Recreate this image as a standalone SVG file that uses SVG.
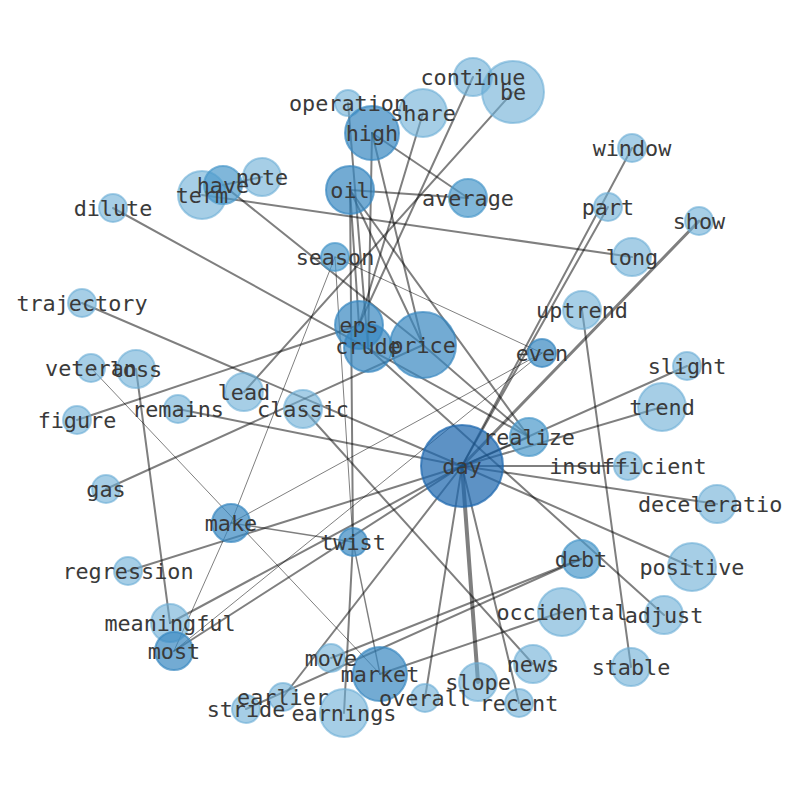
<svg xmlns="http://www.w3.org/2000/svg" width="794" height="790" viewBox="0 0 794 790">
<style>
.e line{stroke:#000;stroke-opacity:.5;stroke-width:2;stroke-linecap:round}
.e line.t{stroke-width:1}
.e line.m{stroke-width:1.4}
.e line.w{stroke-width:3}
.e line.ww{stroke-width:4}
circle{stroke-width:2}
.c1 circle{fill:#6baed6;stroke:#6baed6;fill-opacity:.6;stroke-opacity:.6}
.c2 circle{fill:#4a98cb;stroke:#4a98cb;fill-opacity:.7;stroke-opacity:.7}
.c3 circle{fill:#3787c0;stroke:#3787c0;fill-opacity:.7;stroke-opacity:.7}
.c4 circle{fill:#1f68ae;stroke:#1f68ae;fill-opacity:.72;stroke-opacity:.72}
text{font-family:"DejaVu Sans Mono","Liberation Mono",monospace;font-size:21.8px;fill:#3a3a3a;text-anchor:middle}
</style>
<rect width="794" height="790" fill="#fff"/>
<g id="edges" class="e">
<line x1="462" y1="466" x2="529" y2="437"/>
<line x1="462" y1="466" x2="628" y2="466"/>
<line x1="462" y1="466" x2="717" y2="504"/>
<line x1="462" y1="466" x2="692" y2="567"/>
<line class="ww" x1="462" y1="466" x2="478" y2="682"/>
<line x1="462" y1="466" x2="425" y2="698"/>
<line x1="462" y1="466" x2="519" y2="703"/>
<line class="w" x1="462" y1="466" x2="699" y2="221"/>
<line x1="462" y1="466" x2="608" y2="207"/>
<line x1="462" y1="466" x2="632" y2="148"/>
<line x1="462" y1="466" x2="687" y2="366"/>
<line x1="462" y1="466" x2="662" y2="407"/>
<line x1="462" y1="466" x2="178" y2="409"/>
<line x1="462" y1="466" x2="82" y2="303"/>
<line x1="462" y1="466" x2="128" y2="571"/>
<line x1="462" y1="466" x2="283" y2="697"/>
<line x1="462" y1="466" x2="174" y2="651"/>
<line x1="462" y1="466" x2="170" y2="623"/>
<line x1="582" y1="310" x2="631" y2="667"/>
<line x1="202" y1="195" x2="632" y2="257"/>
<line x1="223" y1="185" x2="262" y2="177"/>
<line x1="223" y1="185" x2="423" y2="345"/>
<line x1="113" y1="208" x2="529" y2="437"/>
<line x1="77" y1="420" x2="359" y2="325"/>
<line x1="473" y1="77" x2="359" y2="325"/>
<line x1="423" y1="113" x2="359" y2="325"/>
<line x1="244" y1="392" x2="513" y2="92"/>
<line x1="106" y1="489" x2="423" y2="345"/>
<line x1="136" y1="369" x2="170" y2="623"/>
<line class="t" x1="91" y1="368" x2="380" y2="674"/>
<line x1="303" y1="409" x2="533" y2="664"/>
<line x1="372" y1="133" x2="468" y2="198"/>
<line x1="350" y1="190" x2="468" y2="198"/>
<line x1="372" y1="133" x2="368" y2="348"/>
<line x1="372" y1="133" x2="423" y2="345"/>
<line x1="350" y1="190" x2="359" y2="325"/>
<line x1="350" y1="190" x2="423" y2="345"/>
<line x1="350" y1="190" x2="529" y2="437"/>
<line x1="350" y1="190" x2="353" y2="542"/>
<line x1="348" y1="103" x2="368" y2="348"/>
<line x1="423" y1="345" x2="529" y2="437"/>
<line class="t" x1="335" y1="257" x2="542" y2="353"/>
<line class="t" x1="335" y1="257" x2="231" y2="523"/>
<line class="t" x1="335" y1="257" x2="353" y2="542"/>
<line class="m" x1="231" y1="523" x2="353" y2="542"/>
<line class="t" x1="231" y1="523" x2="174" y2="651"/>
<line class="t" x1="231" y1="523" x2="542" y2="353"/>
<line class="t" x1="174" y1="651" x2="542" y2="353"/>
<line x1="353" y1="542" x2="344" y2="713"/>
<line class="m" x1="353" y1="542" x2="380" y2="674"/>
<line x1="562" y1="612" x2="380" y2="674"/>
<line x1="581" y1="559" x2="331" y2="658"/>
<line x1="581" y1="559" x2="246" y2="709"/>
<line x1="368" y1="348" x2="664" y2="615"/>
</g>
<g id="n-operation" class="c1"><circle cx="348" cy="103" r="13"/></g>
<g id="n-high" class="c3"><circle cx="372" cy="133" r="27"/></g>
<g id="n-share" class="c1"><circle cx="423" cy="113" r="24"/></g>
<g id="n-continue" class="c1"><circle cx="473" cy="77" r="19"/></g>
<g id="n-be" class="c1"><circle cx="513" cy="92" r="31"/></g>
<g id="n-oil" class="c3"><circle cx="350" cy="190" r="24"/></g>
<g id="n-average" class="c2"><circle cx="468" cy="198" r="19"/></g>
<g id="n-window" class="c1"><circle cx="632" cy="148" r="14"/></g>
<g id="n-part" class="c1"><circle cx="608" cy="207" r="14"/></g>
<g id="n-show" class="c1"><circle cx="699" cy="221" r="14"/></g>
<g id="n-long" class="c1"><circle cx="632" cy="257" r="19"/></g>
<g id="n-uptrend" class="c1"><circle cx="582" cy="310" r="19"/></g>
<g id="n-note" class="c1"><circle cx="262" cy="177" r="19"/></g>
<g id="n-term" class="c1"><circle cx="202" cy="195" r="24"/></g>
<g id="n-have" class="c2"><circle cx="223" cy="185" r="19"/></g>
<g id="n-dilute" class="c1"><circle cx="113" cy="208" r="14"/></g>
<g id="n-season" class="c2"><circle cx="335" cy="257" r="14"/></g>
<g id="n-trajectory" class="c1"><circle cx="82" cy="303" r="14"/></g>
<g id="n-crude" class="c3"><circle cx="368" cy="348" r="24"/></g>
<g id="n-eps" class="c3"><circle cx="359" cy="325" r="24"/></g>
<g id="n-price" class="c3"><circle cx="423" cy="345" r="33"/></g>
<g id="n-even" class="c3"><circle cx="542" cy="353" r="14"/></g>
<g id="n-veteran" class="c1"><circle cx="91" cy="368" r="14"/></g>
<g id="n-loss" class="c1"><circle cx="136" cy="369" r="19"/></g>
<g id="n-figure" class="c1"><circle cx="77" cy="420" r="14"/></g>
<g id="n-remains" class="c1"><circle cx="178" cy="409" r="14"/></g>
<g id="n-lead" class="c1"><circle cx="244" cy="392" r="19"/></g>
<g id="n-classic" class="c1"><circle cx="303" cy="409" r="19"/></g>
<g id="n-slight" class="c1"><circle cx="687" cy="366" r="14"/></g>
<g id="n-trend" class="c1"><circle cx="662" cy="407" r="24"/></g>
<g id="n-realize" class="c2"><circle cx="529" cy="437" r="19"/></g>
<g id="n-day" class="c4"><circle cx="462" cy="466" r="41"/></g>
<g id="n-insufficient" class="c1"><circle cx="628" cy="466" r="14"/></g>
<g id="n-deceleration" class="c1"><circle cx="717" cy="504" r="19"/></g>
<g id="n-gas" class="c1"><circle cx="106" cy="489" r="14"/></g>
<g id="n-make" class="c3"><circle cx="231" cy="523" r="19"/></g>
<g id="n-twist" class="c3"><circle cx="353" cy="542" r="14"/></g>
<g id="n-regression" class="c1"><circle cx="128" cy="571" r="14"/></g>
<g id="n-debt" class="c2"><circle cx="581" cy="559" r="19"/></g>
<g id="n-positive" class="c1"><circle cx="692" cy="567" r="24"/></g>
<g id="n-occidental" class="c1"><circle cx="562" cy="612" r="24"/></g>
<g id="n-adjust" class="c1"><circle cx="664" cy="615" r="19"/></g>
<g id="n-meaningful" class="c1"><circle cx="170" cy="623" r="19"/></g>
<g id="n-most" class="c3"><circle cx="174" cy="651" r="19"/></g>
<g id="n-move" class="c1"><circle cx="331" cy="658" r="14"/></g>
<g id="n-market" class="c3"><circle cx="380" cy="674" r="27"/></g>
<g id="n-news" class="c1"><circle cx="533" cy="664" r="19"/></g>
<g id="n-stable" class="c1"><circle cx="631" cy="667" r="19"/></g>
<g id="n-slope" class="c1"><circle cx="478" cy="682" r="19"/></g>
<g id="n-earlier" class="c1"><circle cx="283" cy="697" r="14"/></g>
<g id="n-overall" class="c1"><circle cx="425" cy="698" r="14"/></g>
<g id="n-recent" class="c1"><circle cx="519" cy="703" r="14"/></g>
<g id="n-stride" class="c1"><circle cx="246" cy="709" r="14"/></g>
<g id="n-earnings" class="c1"><circle cx="344" cy="713" r="24"/></g>
<g id="labels">
<text x="348" y="111">operation</text>
<text x="372" y="141">high</text>
<text x="423" y="121">share</text>
<text x="473" y="85">continue</text>
<text x="513" y="100">be</text>
<text x="350" y="198">oil</text>
<text x="468" y="206">average</text>
<text x="632" y="156">window</text>
<text x="608" y="215">part</text>
<text x="699" y="229">show</text>
<text x="632" y="265">long</text>
<text x="582" y="318">uptrend</text>
<text x="262" y="185">note</text>
<text x="202" y="203">term</text>
<text x="223" y="193">have</text>
<text x="113" y="216">dilute</text>
<text x="335" y="265">season</text>
<text x="82" y="311">trajectory</text>
<text x="368" y="354">crude</text>
<text x="359" y="333">eps</text>
<text x="423" y="353">price</text>
<text x="542" y="361">even</text>
<text x="91" y="376">veteran</text>
<text x="136" y="377">loss</text>
<text x="77" y="428">figure</text>
<text x="178" y="417">remains</text>
<text x="244" y="400">lead</text>
<text x="303" y="417">classic</text>
<text x="687" y="374">slight</text>
<text x="662" y="415">trend</text>
<text x="529" y="445">realize</text>
<text x="462" y="474">day</text>
<text x="628" y="474">insufficient</text>
<text x="638" y="512" style="text-anchor:start">deceleratio</text>
<text x="106" y="497">gas</text>
<text x="231" y="531">make</text>
<text x="353" y="550">twist</text>
<text x="128" y="579">regression</text>
<text x="581" y="567">debt</text>
<text x="692" y="575">positive</text>
<text x="562" y="620">occidental</text>
<text x="664" y="623">adjust</text>
<text x="170" y="631">meaningful</text>
<text x="174" y="659">most</text>
<text x="331" y="666">move</text>
<text x="380" y="682">market</text>
<text x="533" y="672">news</text>
<text x="631" y="675">stable</text>
<text x="478" y="690">slope</text>
<text x="283" y="705">earlier</text>
<text x="425" y="706">overall</text>
<text x="519" y="711">recent</text>
<text x="246" y="717">stride</text>
<text x="344" y="721">earnings</text>
</g>
</svg>
